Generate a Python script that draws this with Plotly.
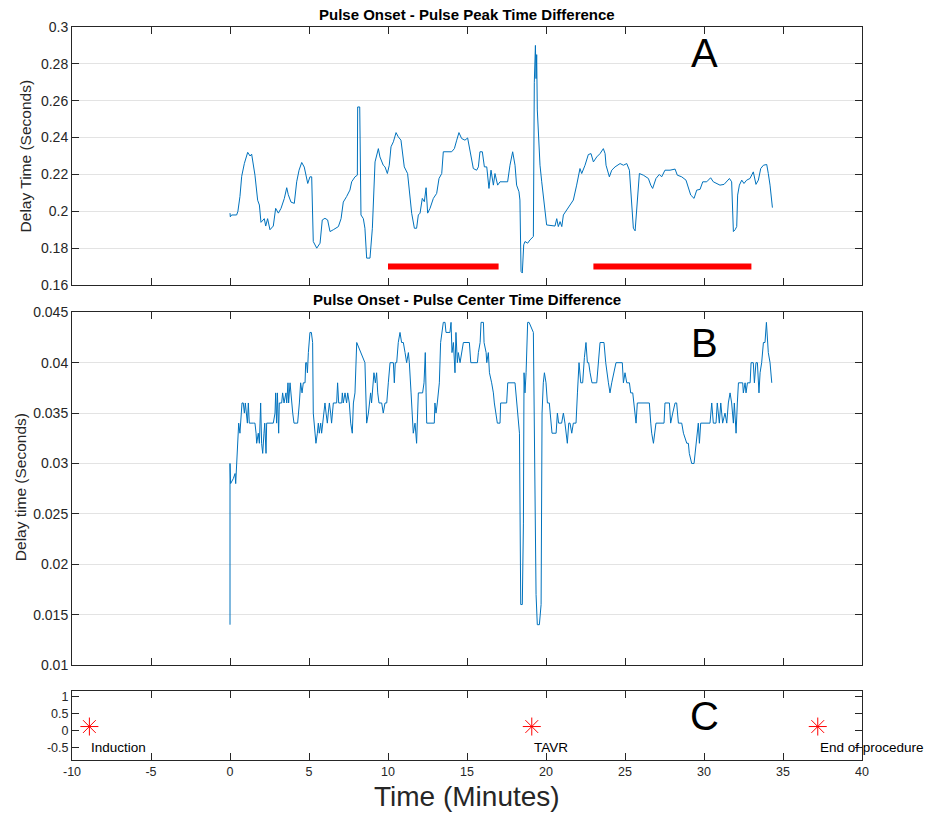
import plotly.graph_objects as go

# ---------------- data ----------------
a_minutes = [0.0, 0.02, 0.1, 0.42, 0.5, 0.63, 0.74, 0.91, 1.12, 1.27, 1.37, 1.58, 1.75, 1.86, 1.96, 2.17, 2.26, 2.38, 2.53, 2.74,
             2.89, 3.06, 3.23, 3.44, 3.59, 3.69, 3.86, 4.07, 4.22, 4.37, 4.54, 4.70, 4.92, 5.06, 5.17, 5.27, 5.49, 5.70, 5.84, 6.01,
             6.18, 6.33, 6.54, 6.86, 7.03, 7.17, 7.38, 7.59, 7.70, 7.91, 8.06, 8.08, 8.21, 8.25, 8.27, 8.29, 8.44, 8.54, 8.65, 8.86,
             9.01, 9.18, 9.39, 9.49, 9.70, 9.81, 9.96, 10.08, 10.19, 10.34, 10.51, 10.65, 10.82, 11.03, 11.24, 11.39, 11.50, 11.67, 11.81, 11.92,
             12.03, 12.17, 12.30, 12.41, 12.51, 12.66, 12.87, 13.08, 13.23, 13.40, 13.50, 14.03, 14.20, 14.35, 14.49, 14.66, 14.87, 15.04, 15.19, 15.40,
             15.61, 15.72, 15.82, 15.97, 16.10, 16.25, 16.39, 16.52, 16.67, 16.77, 16.94, 17.09, 17.57, 17.72, 17.89, 18.04, 18.14, 18.29, 18.35, 18.42,
             18.50, 18.59, 18.67, 18.84, 18.99, 19.20, 19.26, 19.33, 19.37, 19.41, 19.45, 19.55, 19.62, 19.73, 19.90, 20.04, 20.57, 20.68, 20.78, 20.89,
             21.00, 21.10, 21.31, 21.52, 21.73, 21.94, 22.15, 22.26, 22.47, 22.68, 22.85, 23.00, 23.21, 23.42, 23.63, 23.74, 23.80, 24.01, 24.16, 24.37,
             24.69, 24.90, 25.11, 25.28, 25.42, 25.53, 25.64, 25.78, 25.91, 26.16, 26.48, 26.63, 26.75, 26.96, 27.17, 27.32, 27.53, 27.85, 28.17, 28.31,
             28.59, 28.86, 29.01, 29.16, 29.37, 29.54, 29.75, 29.92, 30.17, 30.42, 30.59, 30.80, 31.01, 31.27, 31.44, 31.61, 31.75, 31.86, 31.97, 32.07,
             32.13, 32.24, 32.39, 32.53, 32.70, 32.91, 33.12, 33.29, 33.44, 33.59, 33.76, 33.97, 34.07, 34.18, 34.33]
a_delay = [0.199, 0.197, 0.198, 0.198, 0.200, 0.208, 0.219, 0.226, 0.232, 0.230, 0.231, 0.2196, 0.206, 0.2034, 0.194, 0.196, 0.192, 0.196, 0.190, 0.192,
           0.2016, 0.199, 0.2016, 0.207, 0.2128, 0.209, 0.205, 0.2043, 0.216, 0.2223, 0.2265, 0.224, 0.2151, 0.2187, 0.2187, 0.1836, 0.180, 0.1827, 0.1953, 0.1962,
           0.1953, 0.189, 0.190, 0.1917, 0.196, 0.205, 0.208, 0.2115, 0.216, 0.2187, 0.2196, 0.2566, 0.2566, 0.236, 0.2142, 0.198, 0.196, 0.1908, 0.1746, 0.1746,
           0.1908, 0.2268, 0.234, 0.2295, 0.225, 0.2241, 0.2205, 0.225, 0.235, 0.2377, 0.2427, 0.2404, 0.2386, 0.2241, 0.2205, 0.2088, 0.1989, 0.1908, 0.1908, 0.198,
           0.199, 0.207, 0.2052, 0.2128, 0.199, 0.2016, 0.207, 0.2097, 0.2178, 0.2205, 0.2323, 0.2323, 0.234, 0.2386, 0.2427, 0.2395, 0.2386, 0.2398, 0.2332, 0.2232,
           0.2223, 0.2241, 0.2323, 0.2323, 0.2241, 0.2241, 0.2124, 0.2223, 0.2142, 0.2205, 0.2142, 0.216, 0.216, 0.225, 0.2323, 0.225, 0.2142, 0.2106, 0.2061, 0.1674,
           0.1665, 0.1818, 0.1836, 0.1827, 0.1845, 0.1863, 0.270, 0.290, 0.272, 0.285, 0.255, 0.240, 0.225, 0.216, 0.2034, 0.1926, 0.192, 0.196, 0.1917, 0.1944,
           0.1917, 0.198, 0.2007, 0.2034, 0.2061, 0.2142, 0.2232, 0.2205, 0.225, 0.2308, 0.2313, 0.2268, 0.2295, 0.2313, 0.234, 0.2313, 0.225, 0.2187, 0.2223, 0.2241,
           0.2259, 0.225, 0.2259, 0.2223, 0.2034, 0.1908, 0.1894, 0.2088, 0.2205, 0.2196, 0.2178, 0.2142, 0.2124, 0.2178, 0.220, 0.2187, 0.2223, 0.2223, 0.2229, 0.2196,
           0.2187, 0.2169, 0.2124, 0.2088, 0.207, 0.2115, 0.2119, 0.216, 0.216, 0.2182, 0.216, 0.2151, 0.2142, 0.2146, 0.2164, 0.2178, 0.216, 0.189, 0.190, 0.1917,
           0.2088, 0.2142, 0.2169, 0.2151, 0.2169, 0.2178, 0.2214, 0.2146, 0.2169, 0.2232, 0.225, 0.2254, 0.2205, 0.2142, 0.202]

b_minutes = [0.0, 0.0, 0.04, 0.21, 0.32, 0.36, 0.42, 0.49, 0.55, 0.63, 0.68, 0.76, 0.84, 0.91, 0.97, 1.05, 1.10, 1.16, 1.22, 1.48,
             1.58, 1.65, 1.69, 1.79, 1.86, 1.90, 1.94, 2.00, 2.07, 2.15, 2.20, 2.28, 2.32, 2.74, 2.85, 2.89, 2.95, 3.00, 3.08, 3.12,
             3.27, 3.33, 3.42, 3.54, 3.59, 3.67, 3.71, 3.80, 3.90, 3.97, 4.05, 4.28, 4.39, 4.47, 4.56, 4.64, 4.75, 4.79, 4.85, 4.90,
             4.96, 5.06, 5.15, 5.23, 5.27, 5.38, 5.44, 5.53, 5.59, 5.65, 5.74, 5.80, 5.86, 5.95, 6.01, 6.08, 6.16, 6.22, 6.29, 6.37,
             6.43, 6.54, 6.75, 6.81, 6.88, 7.07, 7.11, 7.17, 7.28, 7.38, 7.45, 7.55, 7.64, 7.74, 7.81, 7.91, 8.02, 8.54, 8.61, 8.65,
             8.76, 8.82, 8.90, 8.96, 9.03, 9.11, 9.20, 9.28, 9.35, 9.43, 9.60, 9.70, 9.81, 9.92, 10.02, 10.13, 10.34, 10.40, 10.46, 10.55,
             10.65, 10.76, 10.86, 10.97, 11.08, 11.18, 11.29, 11.35, 11.46, 11.54, 11.60, 11.71, 11.81, 11.92, 12.19, 12.28, 12.36, 12.41, 12.45, 12.66,
             12.93, 12.97, 13.04, 13.12, 13.25, 13.33, 13.40, 13.50, 13.61, 13.67, 13.92, 13.99, 14.05, 14.14, 14.24, 14.30, 14.39, 14.45, 14.56, 14.77,
             15.15, 15.24, 15.66, 15.72, 15.83, 15.89, 16.04, 16.08, 16.21, 16.25, 16.35, 16.42, 16.56, 16.67, 16.73, 16.84, 16.92, 17.09, 17.13, 17.51,
             17.58, 18.04, 18.15, 18.25, 18.32, 18.40, 18.50, 18.57, 18.61, 18.67, 18.74, 18.84, 18.93, 19.20, 19.26, 19.37, 19.45, 19.58, 19.69, 19.75,
             19.83, 19.90, 20.00, 20.09, 20.21, 20.30, 20.38, 20.64, 20.72, 20.80, 20.99, 21.10, 21.20, 21.35, 21.44, 21.52, 21.63, 21.73, 21.90, 21.99,
             22.09, 22.20, 22.32, 22.43, 22.53, 22.62, 22.70, 22.79, 22.91, 23.21, 23.32, 23.42, 23.67, 23.78, 23.95, 24.05, 24.16, 24.43, 24.83, 24.90,
             25.00, 25.11, 25.28, 25.36, 25.49, 25.57, 25.70, 25.78, 26.54, 26.63, 26.69, 26.80, 26.96, 27.47, 27.53, 27.81, 27.89, 28.02, 28.17, 28.27,
             28.38, 28.59, 28.70, 28.91, 29.01, 29.07, 29.22, 29.37, 29.50, 29.58, 29.64, 29.71, 29.79, 30.38, 30.49, 30.59, 30.76, 30.84, 30.97, 31.06,
             31.18, 31.33, 31.44, 31.54, 31.65, 31.75, 31.86, 31.92, 32.03, 32.11, 32.18, 32.45, 32.49, 32.60, 32.66, 32.75, 32.92, 32.98, 33.12, 33.19,
             33.29, 33.38, 33.48, 33.55, 33.65, 33.76, 33.86, 33.95, 34.01, 34.07, 34.18, 34.29]
b_delay = [0.014, 0.030, 0.028, 0.0285, 0.029, 0.028, 0.030, 0.031, 0.034, 0.033, 0.034, 0.036, 0.036, 0.035, 0.036, 0.035, 0.034, 0.036, 0.034, 0.034,
           0.034, 0.033, 0.032, 0.033, 0.032, 0.034, 0.036, 0.032, 0.031, 0.033, 0.034, 0.031, 0.034, 0.034, 0.035, 0.037, 0.034, 0.037, 0.033, 0.036,
           0.036, 0.037, 0.036, 0.037, 0.036, 0.038, 0.036, 0.038, 0.036, 0.035, 0.034, 0.034, 0.036, 0.038, 0.037, 0.038, 0.038, 0.040, 0.040, 0.039,
           0.041, 0.043, 0.043, 0.042, 0.035, 0.033, 0.032, 0.033, 0.034, 0.033, 0.034, 0.033, 0.034, 0.035, 0.036, 0.035, 0.034, 0.035, 0.036, 0.035,
           0.034, 0.036, 0.036, 0.038, 0.036, 0.036, 0.037, 0.036, 0.037, 0.036, 0.037, 0.036, 0.034, 0.033, 0.036, 0.037, 0.042, 0.040, 0.036, 0.034,
           0.035, 0.036, 0.037, 0.036, 0.038, 0.039, 0.038, 0.039, 0.037, 0.036, 0.036, 0.035, 0.036, 0.036, 0.038, 0.040, 0.040, 0.038, 0.040, 0.040,
           0.042, 0.043, 0.042, 0.042, 0.041, 0.040, 0.041, 0.040, 0.037, 0.035, 0.033, 0.034, 0.032, 0.037, 0.037, 0.038, 0.041, 0.037, 0.034, 0.034,
           0.034, 0.036, 0.035, 0.036, 0.038, 0.042, 0.043, 0.044, 0.044, 0.043, 0.043, 0.044, 0.041, 0.042, 0.039, 0.043, 0.040, 0.041, 0.040, 0.042,
           0.042, 0.040, 0.040, 0.041, 0.042, 0.044, 0.044, 0.042, 0.041, 0.040, 0.041, 0.039, 0.038, 0.037, 0.036, 0.035, 0.034, 0.034, 0.036, 0.036,
           0.038, 0.038, 0.036, 0.035, 0.033, 0.016, 0.016, 0.024, 0.039, 0.037, 0.039, 0.044, 0.044, 0.043, 0.031, 0.017, 0.014, 0.014, 0.016, 0.035,
           0.038, 0.039, 0.038, 0.036, 0.036, 0.034, 0.033, 0.033, 0.035, 0.034, 0.034, 0.035, 0.034, 0.032, 0.034, 0.034, 0.033, 0.034, 0.034, 0.037,
           0.040, 0.038, 0.038, 0.0405, 0.042, 0.040, 0.040, 0.039, 0.038, 0.038, 0.040, 0.042, 0.042, 0.040, 0.038, 0.037, 0.038, 0.040, 0.040, 0.038,
           0.039, 0.038, 0.038, 0.037, 0.037, 0.036, 0.034, 0.036, 0.036, 0.034, 0.033, 0.032, 0.034, 0.034, 0.036, 0.036, 0.034, 0.035, 0.036, 0.036,
           0.034, 0.034, 0.033, 0.032, 0.032, 0.031, 0.030, 0.030, 0.032, 0.033, 0.034, 0.032, 0.034, 0.034, 0.036, 0.034, 0.034, 0.036, 0.034, 0.036,
           0.034, 0.035, 0.034, 0.036, 0.037, 0.036, 0.034, 0.036, 0.033, 0.036, 0.038, 0.038, 0.037, 0.038, 0.037, 0.038, 0.038, 0.040, 0.040, 0.038,
           0.040, 0.040, 0.037, 0.039, 0.040, 0.042, 0.042, 0.044, 0.042, 0.041, 0.040, 0.038]

bar_start = [10, 23]
bar_end = [17, 33]
bar_level = 0.17

event_minutes = [-8.9, 19.1, 37.2]
event_level = [0.12, 0.12, 0.12]
event_labels = ["Induction", "TAVR", "End of procedure"]
label_level = -0.5

x_ticks = [-10, -5, 0, 5, 10, 15, 20, 25, 30, 35, 40]
x_ticklabels = ["-10", "-5", "0", "5", "10", "15", "20", "25", "30", "35", "40"]
a_ticks = [0.16, 0.18, 0.2, 0.22, 0.24, 0.26, 0.28, 0.3]
a_ticklabels = ["0.16", "0.18", "0.2", "0.22", "0.24", "0.26", "0.28", "0.3"]
b_ticks = [0.01, 0.015, 0.02, 0.025, 0.03, 0.035, 0.04, 0.045]
b_ticklabels = ["0.01", "0.015", "0.02", "0.025", "0.03", "0.035", "0.04", "0.045"]
c_ticks = [-0.5, 0, 0.5, 1]
c_ticklabels = ["-0.5", "0", "0.5", "1"]

# ---------------- figure ----------------
FONT = "Liberation Sans, Arial, Helvetica, sans-serif"
AX = "#262626"
GRID = "#e3e3e3"
BLUE = "#0072BD"

fig = go.Figure()
fig.add_trace(go.Scatter(x=a_minutes, y=a_delay, mode="lines", line=dict(color=BLUE, width=1),
                         xaxis="x", yaxis="y", showlegend=False, hoverinfo="skip"))
for s, e in zip(bar_start, bar_end):
    fig.add_trace(go.Scatter(x=[s, e], y=[bar_level, bar_level], mode="lines",
                             line=dict(color="#FF0000", width=6), xaxis="x", yaxis="y",
                             showlegend=False, hoverinfo="skip"))
fig.add_trace(go.Scatter(x=b_minutes, y=b_delay, mode="lines", line=dict(color=BLUE, width=1),
                         xaxis="x2", yaxis="y2", showlegend=False, hoverinfo="skip"))
fig.add_trace(go.Scatter(x=event_minutes, y=event_level, mode="markers",
                         marker=dict(symbol="asterisk-open", size=15, color="#FF0000",
                                     line=dict(color="#FF0000", width=1)),
                         xaxis="x3", yaxis="y3", showlegend=False, hoverinfo="skip"))

def xax(domain_anchor, labels):
    return dict(domain=[0, 1], anchor=domain_anchor, range=[-10, 40], tickvals=x_ticks,
                ticktext=x_ticklabels, showticklabels=labels, ticks="inside", ticklen=7,
                tickcolor=AX, showline=True, linecolor=AX, linewidth=1, mirror="ticks",
                showgrid=False, zeroline=False,
                tickfont=dict(family=FONT, size=12.5, color=AX))

def yax(domain, rng, tv, tt, grid, size):
    return dict(domain=domain, range=rng, tickvals=tv, ticktext=tt, ticks="inside", ticklen=7,
                tickcolor=AX, showline=True, linecolor=AX, linewidth=1, mirror="ticks",
                showgrid=grid, gridcolor=GRID, gridwidth=1, zeroline=False,
                tickfont=dict(family=FONT, size=size, color=AX))

fig.update_layout(
    width=930, height=816,
    margin=dict(l=72, r=68, t=27, b=56, autoexpand=False),
    paper_bgcolor="white", plot_bgcolor="white",
    xaxis=xax("y", False),
    yaxis=yax([0.648, 1.0], [0.16, 0.3], a_ticks, a_ticklabels, True, 14),
    xaxis2=xax("y2", False),
    yaxis2=yax([0.1296, 0.6108], [0.01, 0.045], b_ticks, b_ticklabels, True, 14),
    xaxis3=xax("y3", True),
    yaxis3=yax([0, 0.0941], [-0.85, 1.15], c_ticks, c_ticklabels, False, 12.5),
)

ann = []
ann.append(dict(text="<b>Pulse Onset - Pulse Peak Time Difference</b>", xref="paper", yref="paper",
                x=0.5, y=1.0164, xanchor="center", yanchor="middle", showarrow=False,
                font=dict(family=FONT, size=15, color="black")))
ann.append(dict(text="<b>Pulse Onset - Pulse Center Time Difference</b>", xref="paper", yref="paper",
                x=0.5, y=0.6276, xanchor="center", yanchor="middle", showarrow=False,
                font=dict(family=FONT, size=15, color="black")))
ann.append(dict(text="Delay Time (Seconds)", xref="paper", yref="paper", x=-0.059, y=0.824,
                textangle=-90, xanchor="center", yanchor="middle", showarrow=False,
                font=dict(family=FONT, size=15.5, color=AX)))
ann.append(dict(text="Delay time (Seconds)", xref="paper", yref="paper", x=-0.066, y=0.372,
                textangle=-90, xanchor="center", yanchor="middle", showarrow=False,
                font=dict(family=FONT, size=15.5, color=AX)))
ann.append(dict(text="Time (Minutes)", xref="paper", yref="paper", x=0.5, y=-0.05,
                xanchor="center", yanchor="middle", showarrow=False,
                font=dict(family=FONT, size=28, color=AX)))
ann.append(dict(text="A", xref="x", yref="y", x=30, y=0.2853, xanchor="center", yanchor="middle",
                showarrow=False, yshift=1, font=dict(family=FONT, size=40, color="black")))
ann.append(dict(text="B", xref="x2", yref="y2", x=30, y=0.04195, xanchor="center", yanchor="middle",
                showarrow=False, yshift=0, font=dict(family=FONT, size=40, color="black")))
ann.append(dict(text="C", xref="x3", yref="y3", x=30, y=0.41, xanchor="center", yanchor="middle",
                showarrow=False, yshift=1, font=dict(family=FONT, size=40, color="black")))
for xm, lab in zip(event_minutes, event_labels):
    ann.append(dict(text=lab, xref="x3", yref="y3", x=xm, y=label_level, xanchor="left",
                    yanchor="middle", showarrow=False,
                    font=dict(family=FONT, size=13.5, color="black")))
fig.update_layout(annotations=ann)

# remove the browser's default body margin so the figure sits at the page corner
fig.write_html("out.html", config={"displayModeBar": False},
               post_script="document.body.style.margin='0';")
